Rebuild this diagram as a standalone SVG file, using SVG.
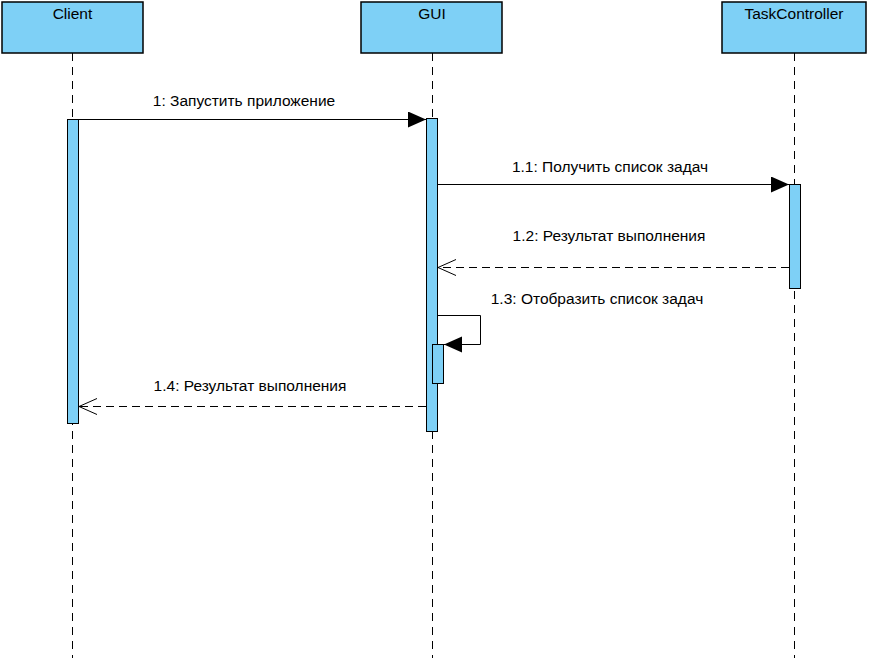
<svg xmlns="http://www.w3.org/2000/svg" width="874" height="658" viewBox="0 0 874 658">
  <style>
    .box { fill: #7ed0f6; stroke: #000; stroke-width: 1.5; }
    .act { fill: #7ed0f6; stroke: #000; stroke-width: 1; }
    .life { stroke: #000; stroke-width: 1; stroke-dasharray: 8 6; fill: none; }
    .msg { stroke: #000; stroke-width: 1; fill: none; }
    .ret { stroke: #000; stroke-width: 1; fill: none; stroke-dasharray: 8 5; }
    text { font-family: "Liberation Sans", Arial, sans-serif; font-size: 15.5px; fill: #000; }
    .title { text-anchor: middle; }
    .lbl { text-anchor: middle; }
  </style>
  <defs>
    <marker id="filled" markerWidth="20" markerHeight="18" refX="18" refY="8" orient="auto" markerUnits="userSpaceOnUse">
      <path d="M0,0 L18,8 L0,16 Z" fill="#000"/>
    </marker>
    <marker id="open" markerWidth="20" markerHeight="18" refX="18" refY="8" orient="auto" markerUnits="userSpaceOnUse">
      <path d="M0,0 L18,8 L0,16" fill="none" stroke="#000" stroke-width="1"/>
    </marker>
  </defs>

  <!-- lifelines -->
  <g id="lifelines">
    <line class="life" x1="72.5" y1="53" x2="72.5" y2="658"/>
    <line class="life" x1="432.5" y1="53" x2="432.5" y2="658"/>
    <line class="life" x1="794.5" y1="53" x2="794.5" y2="658"/>
  </g>

  <g id="client">
    <rect class="box" x="2" y="2" width="141" height="51"/>
    <text class="title" x="72.5" y="19">Client</text>
    <rect class="act" x="67.5" y="119.5" width="11" height="304"/>
  </g>

  <g id="gui">
    <rect class="box" x="361" y="2" width="141" height="51"/>
    <text class="title" x="432" y="19">GUI</text>
    <rect class="act" x="426.5" y="118.5" width="11" height="313"/>
    <rect class="act" x="432.5" y="344.5" width="11" height="39"/>
  </g>

  <g id="taskcontroller">
    <rect class="box" x="722" y="2" width="144" height="51"/>
    <text class="title" x="794" y="19">TaskController</text>
    <rect class="act" x="789.5" y="184.5" width="11" height="104"/>
  </g>

  <!-- messages -->
  <g id="connectors">
    <line class="msg" x1="79" y1="119.5" x2="426" y2="119.5" marker-end="url(#filled)"/>
    <text class="lbl" x="244" y="106">1: Запустить приложение</text>

    <line class="msg" x1="438" y1="184.5" x2="789" y2="184.5" marker-end="url(#filled)"/>
    <text class="lbl" x="610" y="172">1.1: Получить список задач</text>

    <line class="ret" x1="789" y1="267.5" x2="438" y2="267.5" marker-end="url(#open)"/>
    <text class="lbl" x="609" y="241">1.2: Результат выполнения</text>

    <polyline class="msg" points="438,315.5 480.5,315.5 480.5,344.5 444,344.5" marker-end="url(#filled)"/>
    <text class="lbl" x="597" y="304">1.3: Отобразить список задач</text>

    <line class="ret" x1="426" y1="406.5" x2="79" y2="406.5" marker-end="url(#open)"/>
    <text class="lbl" x="250" y="391">1.4: Результат выполнения</text>
  </g>
</svg>
